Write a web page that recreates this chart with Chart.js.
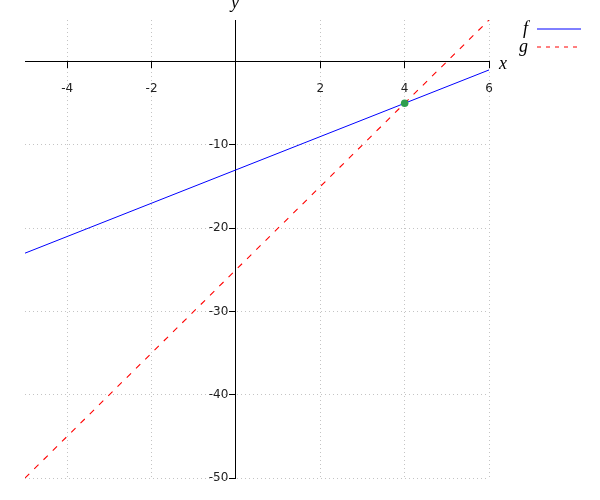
<!DOCTYPE html>
<html>
<head>
<meta charset="utf-8">
<script src="https://cdn.jsdelivr.net/npm/chart.js@4/dist/chart.umd.min.js"></script>
<style>
  html, body { margin: 0; padding: 0; background: #fff; }
  #wrap { width: 600px; height: 500px; position: relative; }
</style>
</head>
<body>
<div id="wrap"><canvas id="c" width="600" height="500"></canvas></div>
<script>
// ---- data ----
const fX = [-5, 6];
const fY = [-23, -1];
const gX = [-5, 6];
const gY = [-50, 5];
const ptX = [4];
const ptY = [-5];
const xTickValues = [-4, -2, 2, 4, 6];
const yTickValues = [-50, -40, -30, -20, -10];
const seriesNames = ['f', 'g'];
const xRange = [-5, 6];
const yRange = [-50, 5];

const toPts = (xs, ys) => xs.map((x, i) => ({ x: x, y: ys[i] }));

const axisTitles = {
  id: 'axisTitles',
  afterDraw(chart) {
    const { ctx, scales } = chart;
    const xs = scales.x, ys = scales.y;
    ctx.save();
    ctx.fillStyle = '#000';
    ctx.font = 'italic 18px "Liberation Serif"';
    ctx.textBaseline = 'middle';
    ctx.textAlign = 'left';
    ctx.fillText('x', xs.right + 10, ys.getPixelForValue(0) + 2.5);
    ctx.textAlign = 'center';
    ctx.textBaseline = 'alphabetic';
    ctx.fillText('y', xs.getPixelForValue(0) - 1, ys.top - 12);
    ctx.restore();
  }
};

new Chart(document.getElementById('c'), {
  type: 'scatter',
  data: {
    datasets: [
      {
        label: seriesNames[0],
        data: toPts(fX, fY),
        showLine: true,
        borderColor: '#0000ff',
        backgroundColor: '#0000ff',
        borderWidth: 1,
        pointRadius: 0,
        pointHoverRadius: 0,
        order: 2
      },
      {
        label: seriesNames[1],
        data: toPts(gX, gY),
        showLine: true,
        borderColor: '#ff0000',
        backgroundColor: '#ff0000',
        borderWidth: 1.1,
        borderDash: [6, 7],
        pointRadius: 0,
        pointHoverRadius: 0,
        order: 3
      },
      {
        label: 'point',
        data: toPts(ptX, ptY),
        showLine: false,
        borderColor: '#2e9e4f',
        pointRadius: 3.8,
        pointBackgroundColor: '#2e9e4f',
        pointBorderColor: '#2e9e4f',
        pointBorderWidth: 0,
        order: 1
      }
    ]
  },
  options: {
    responsive: false,
    animation: false,
    events: [],
    layout: { padding: { left: 25, top: 20, bottom: 22, right: 19 } },
    plugins: {
      tooltip: { enabled: false },
      legend: {
        display: true,
        position: 'right',
        align: 'start',
        rtl: true,
        labels: {
          filter: (item) => item.datasetIndex < 2,
          generateLabels: (chart) => {
            const items = Chart.defaults.plugins.legend.labels.generateLabels(chart);
            items.forEach(it => {
              const ds = chart.data.datasets[it.datasetIndex];
              it.strokeStyle = ds.borderColor;
              it.lineWidth = 1;
              it.lineDash = (ds.borderDash && ds.borderDash.length) ? [4, 5] : [];
            });
            return items;
          },
          usePointStyle: true,
          pointStyle: 'line',
          pointStyleWidth: 44,
          padding: 0,
          color: '#000',
          font: { family: 'Liberation Serif', style: 'italic', size: 18 }
        }
      }
    },
    scales: {
      x: {
        type: 'linear',
        min: xRange[0],
        max: xRange[1],
        position: { y: 0 },
        afterBuildTicks: (s) => { s.ticks = xTickValues.map(v => ({ value: v })); },
        grid: {
          color: '#c4c4c4',
          lineWidth: 1,
          drawTicks: true,
          tickLength: 6,
          tickColor: '#000',
          tickWidth: 1,
          tickBorderDash: []
        },
        border: { display: true, color: '#000', width: 1, dash: [1, 3] },
        ticks: {
          color: '#222',
          padding: 14,
          maxRotation: 0,
          autoSkip: false,
          font: { family: 'DejaVu Sans', size: 12 }
        }
      },
      y: {
        type: 'linear',
        min: yRange[0],
        max: yRange[1],
        position: { x: 0 },
        afterBuildTicks: (s) => { s.ticks = yTickValues.map(v => ({ value: v })); },
        grid: {
          color: '#c4c4c4',
          lineWidth: 1,
          drawTicks: true,
          tickLength: 6,
          tickColor: '#000',
          tickWidth: 1,
          tickBorderDash: []
        },
        border: { display: true, color: '#000', width: 1, dash: [1, 3] },
        ticks: {
          color: '#222',
          padding: 3,
          autoSkip: false,
          callback: (v) => v + '  ',
          font: { family: 'DejaVu Sans', size: 12 }
        }
      },
      // empty spacer between the plot and the legend
      gap: {
        type: 'linear',
        axis: 'y',
        position: 'right',
        display: true,
        grid: { display: false, drawTicks: false },
        border: { display: false },
        ticks: { display: false },
        afterFit: (s) => { s.width = 20; }
      }
    }
  },
  plugins: [axisTitles]
});
</script>
</body>
</html>
